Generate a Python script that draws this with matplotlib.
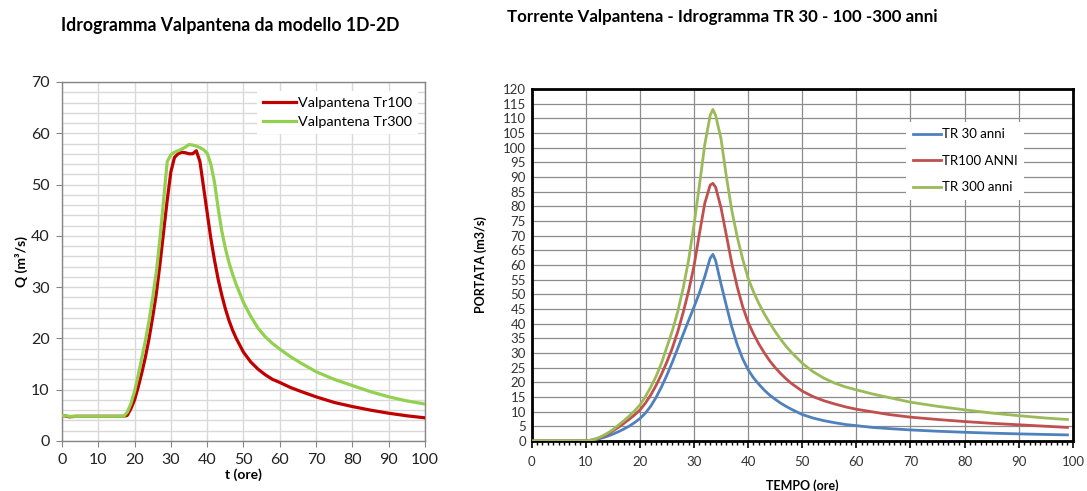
import matplotlib
matplotlib.use("Agg")
import matplotlib.pyplot as plt
from matplotlib.ticker import MultipleLocator

plt.rcParams['font.family'] = ['Lato', 'DejaVu Sans']

# ---- 1D-2D model hydrographs (hours, m3/s) ----
t_model = [0, 2, 4, 6, 8, 10, 12, 14, 16, 17, 18, 19, 20, 21, 22, 23, 24, 25,
           26, 27, 28, 29, 30, 31, 32, 33, 34, 35, 36, 37, 38, 39, 40, 41, 42,
           43, 44, 45, 46, 47, 48, 50, 52, 54, 56, 58, 60, 63, 66, 70, 75, 80,
           85, 90, 95, 100]
q_tr100 = [5.0, 4.7, 4.8, 4.8, 4.8, 4.8, 4.8, 4.8, 4.8, 4.8, 5.0, 6.3, 8.0,
           10.5, 13.3, 16.4, 20.0, 24.2, 28.8, 34.5, 40.8, 47.0, 52.5, 55.3,
           56.0, 56.3, 56.2, 56.0, 56.0, 56.6, 54.5, 49.5, 44.5, 39.5, 35.3,
           31.6, 28.5, 25.8, 23.5, 21.6, 20.0, 17.3, 15.4, 14.0, 12.9, 12.0,
           11.4, 10.4, 9.6, 8.6, 7.5, 6.7, 6.0, 5.4, 4.9, 4.5]
q_tr300 = [5.0, 4.8, 4.8, 4.8, 4.8, 4.8, 4.8, 4.8, 4.8, 4.8, 5.6, 7.3, 9.7,
           12.8, 16.2, 19.6, 23.5, 28.0, 33.0, 39.5, 47.0, 54.5, 55.8, 56.3,
           56.6, 56.9, 57.3, 57.8, 57.7, 57.5, 57.2, 56.8, 56.1, 54.0, 50.5,
           45.5, 41.0, 37.6, 34.8, 32.5, 30.5, 27.0, 24.3, 22.0, 20.3, 19.0,
           17.9, 16.4, 15.1, 13.5, 12.0, 10.8, 9.6, 8.6, 7.8, 7.2]

# ---- TR 30 / 100 / 300 design hydrographs (hours, m3/s) ----
t_tr = [0, 10, 11, 12, 13, 14, 15, 16, 17, 18, 19, 20, 21, 22, 23, 24, 25, 26,
        27, 28, 29, 30, 31, 32, 33, 33.5, 34, 35, 36, 37, 38, 39, 40, 41, 42,
        43, 44, 45, 46, 47, 48, 50, 52, 54, 56, 58, 60, 63, 66, 70, 75, 80,
        85, 90, 95, 99]
q_tr30 = [0, 0, 0.15, 0.5, 1.0, 1.6, 2.3, 3.1, 4.0, 5.0, 6.2, 7.6, 9.4, 11.8,
          14.8, 18.4, 22.4, 26.8, 31.5, 36.3, 41.0, 45.6, 50.4, 56.0, 62.3,
          63.6, 61.5, 53.5, 46.0, 38.8, 32.8, 28.0, 24.3, 21.5, 19.3, 17.3,
          15.6, 14.2, 12.9, 11.8, 10.8, 9.0, 7.8, 6.9, 6.2, 5.6, 5.2, 4.6, 4.2,
          3.75, 3.3, 2.95, 2.65, 2.4, 2.2, 2.05]
q_tr100_anni = [0, 0, 0.25, 0.7, 1.4, 2.3, 3.4, 4.6, 5.9, 7.3, 8.8, 10.5, 12.8,
                15.6, 18.9, 22.7, 26.9, 31.6, 37.2, 43.7, 51.0, 59.5, 70.5,
                81.0, 87.2, 87.8, 86.5, 79.5, 70.0, 60.5, 52.5, 45.8, 40.5,
                36.5, 33.0, 30.0, 27.3, 25.0, 23.0, 21.2, 19.6, 17.0, 15.1,
                13.7, 12.6, 11.6, 10.8, 9.9, 9.0, 8.1, 7.3, 6.6, 6.0, 5.5, 5.0,
                4.6]
q_tr300_anni = [0, 0, 0.3, 0.8, 1.6, 2.6, 3.8, 5.3, 6.8, 8.4, 10.2, 12.2, 15.0,
                18.3, 22.0, 26.5, 32.0, 37.5, 44.0, 52.0, 61.5, 73.5, 87.0,
                101.0, 111.0, 113.0, 111.0, 103.0, 90.0, 78.5, 69.5, 62.0,
                55.5, 50.8, 46.8, 43.3, 40.2, 37.3, 34.7, 32.3, 30.2, 26.5,
                23.6, 21.4, 19.7, 18.4, 17.4, 16.0, 14.8, 13.2, 11.8, 10.6,
                9.5, 8.6, 7.8, 7.3]

fig = plt.figure(figsize=(10.87, 4.91), dpi=100)

# ---------------- left panel ----------------
ax1 = fig.add_axes([0.057, 0.102, 0.334, 0.731])
ax1.plot(t_model, q_tr100, color='#C00000', lw=2.3, label='Valpantena Tr100',
         zorder=3)
ax1.plot(t_model, q_tr300, color='#92D050', lw=2.3, label='Valpantena Tr300',
         zorder=3)
ax1.set_xlim(0, 100)
ax1.set_ylim(0, 70)
ax1.xaxis.set_major_locator(MultipleLocator(10))
ax1.yaxis.set_major_locator(MultipleLocator(10))
ax1.yaxis.set_minor_locator(MultipleLocator(2))
ax1.grid(which='major', color='#D9D9D9', lw=1.0)
ax1.grid(which='minor', axis='y', color='#D9D9D9', lw=1.0)
ax1.set_axisbelow(True)
for s in ax1.spines.values():
    s.set_color('#868686')
    s.set_linewidth(1.0)
ax1.tick_params(which='major', direction='out', length=4, color='#868686',
                labelsize=11.5, pad=5, labelcolor='#222222')
ax1.tick_params(which='minor', length=0)
ax1.set_xlabel('t (ore)', fontsize=10, fontweight='bold', labelpad=1)
ax1.set_ylabel('Q (m³/s)', fontsize=10, fontweight='bold', labelpad=2)
leg1 = ax1.legend(loc='upper right', bbox_to_anchor=(1.0, 0.995),
                  fontsize=10.4, frameon=True, fancybox=False, framealpha=1,
                  edgecolor='none', facecolor='white', handlelength=2.3,
                  handletextpad=0.15, labelspacing=0.5, borderpad=0.4)
fig.text(0.212, 1 - 25 / 491, 'Idrogramma Valpantena da modello 1D-2D',
         ha='center', va='center', fontsize=12.7, fontweight='bold')

# ---------------- right panel ----------------
ax2 = fig.add_axes([0.489, 0.102, 0.498, 0.717])
ax2.plot(t_tr, q_tr30, color='#4F81BD', lw=2.0, label='TR 30 anni', zorder=3)
ax2.plot(t_tr, q_tr100_anni, color='#C0504D', lw=2.0, label='TR100 ANNI',
         zorder=3)
ax2.plot(t_tr, q_tr300_anni, color='#9BBB59', lw=2.0, label='TR 300 anni',
         zorder=3)
ax2.set_xlim(0, 100)
ax2.set_ylim(0, 120)
ax2.xaxis.set_major_locator(MultipleLocator(10))
ax2.xaxis.set_minor_locator(MultipleLocator(1))
ax2.yaxis.set_major_locator(MultipleLocator(5))
ax2.grid(which='major', color='#8C8C8C', lw=0.9)
ax2.set_axisbelow(True)
for s in ax2.spines.values():
    s.set_color('black')
    s.set_linewidth(2.0)
ax2.tick_params(axis='y', length=0, labelsize=9.5, pad=4, labelcolor='#333333')
ax2.tick_params(axis='x', which='major', direction='out', length=5, width=1.2,
                labelsize=9.5, pad=6, labelcolor='#333333')
ax2.tick_params(axis='x', which='minor', direction='out', length=3, width=1.0)
ax2.set_xlabel('TEMPO (ore)', fontsize=9, fontweight='bold', labelpad=8)
ax2.set_ylabel('PORTATA (m3/s)', fontsize=9, fontweight='bold', labelpad=11)
leg2 = ax2.legend(loc='upper left', bbox_to_anchor=(0.68, 0.925),
                  fontsize=9.5, frameon=True, fancybox=False, framealpha=1,
                  edgecolor='none', facecolor='white', handlelength=2.1,
                  handletextpad=0.1, labelspacing=1.1, borderpad=0.5)
fig.text(0.664, 1 - 17 / 491,
         'Torrente Valpantena - Idrogramma TR 30 - 100 -300 anni',
         ha='center', va='center', fontsize=12.2, fontweight='bold')

fig.savefig('out.png', dpi=100)
